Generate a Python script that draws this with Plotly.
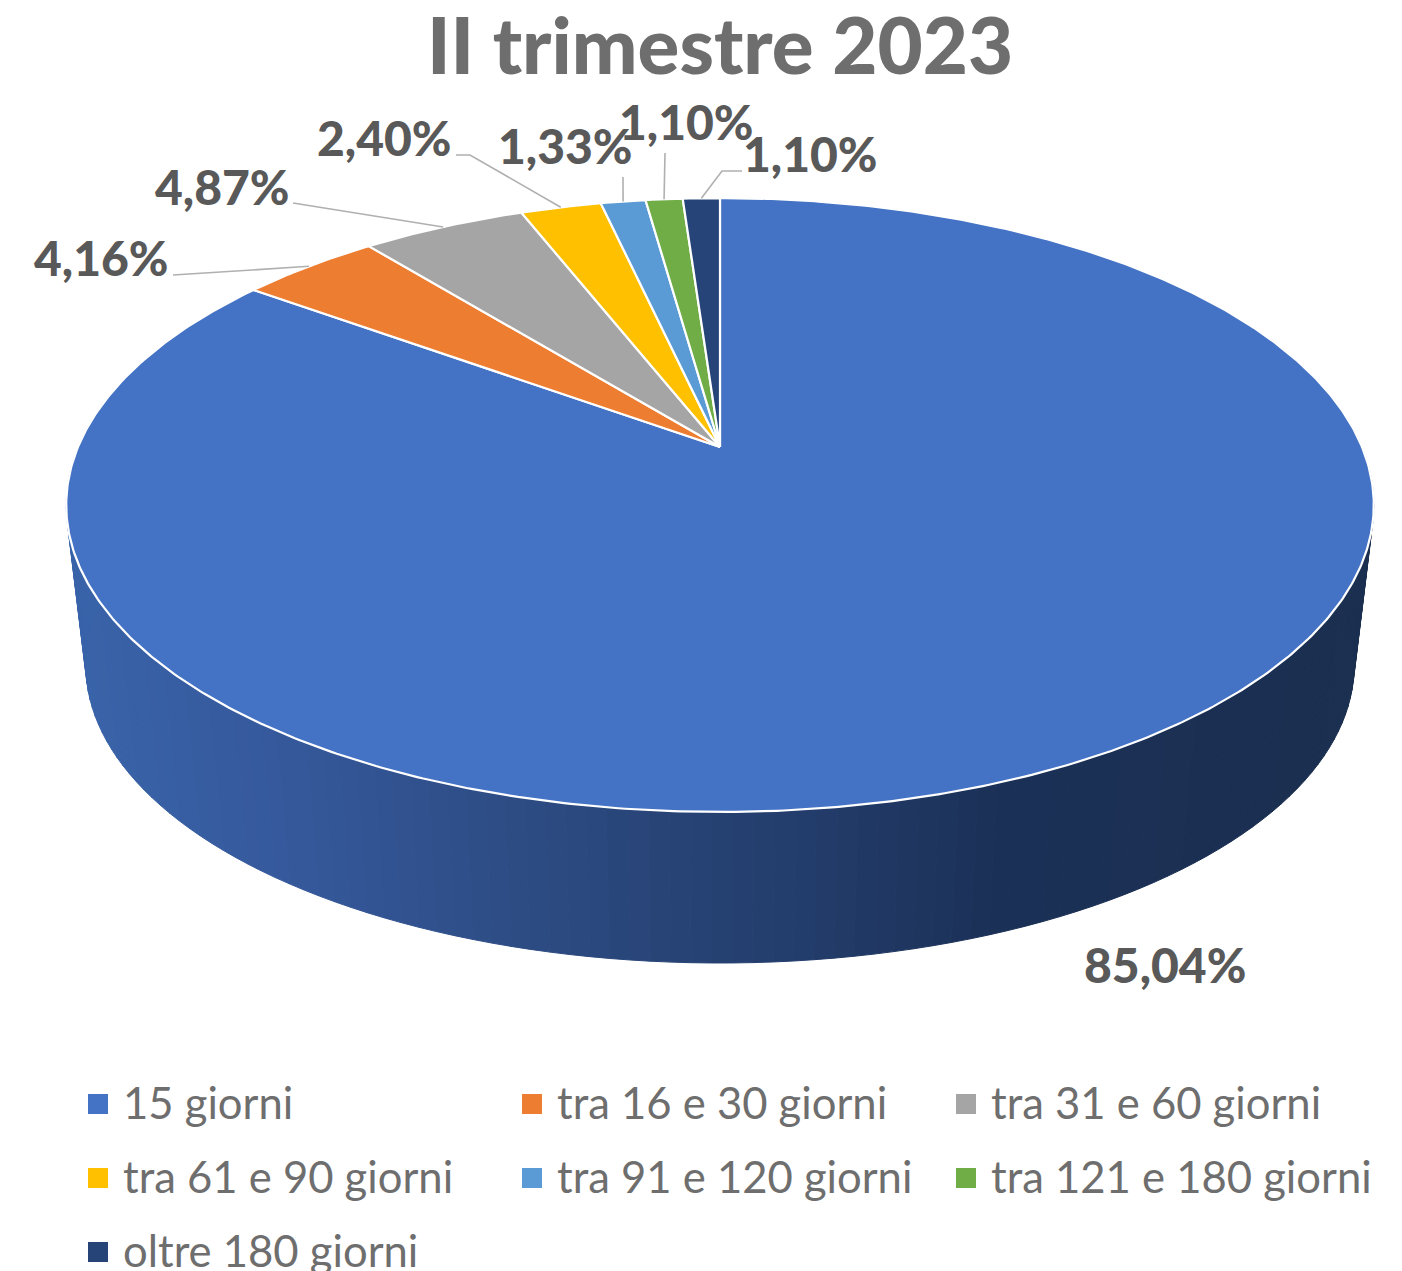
import numpy as np
import plotly.graph_objects as go

TITLE = "II trimestre 2023"
categories = ["15 giorni", "tra 16 e 30 giorni", "tra 31 e 60 giorni", "tra 61 e 90 giorni",
              "tra 91 e 120 giorni", "tra 121 e 180 giorni", "oltre 180 giorni"]
values = [85.04, 4.16, 4.87, 2.40, 1.33, 1.10, 1.10]
value_labels = ["85,04%", "4,16%", "4,87%", "2,40%", "1,33%", "1,10%", "1,10%"]
colors = ["#4472C4", "#ED7D31", "#A5A5A5", "#FFC000", "#5B9BD5", "#70AD47", "#264478"]

# Perspective model of the pie's top disc, in page pixels
CX, CY = 720.0, 447.0
K, A, B = 0.189, 642.0, 296.0
SCALE, VY = 0.97, 5846.0   # extrusion of the lower rim towards the vanishing point


def project(theta):
    """theta: clockwise angle from 12 o'clock, in radians."""
    u, v = np.sin(theta), -np.cos(theta)
    d = 1 - K * v
    return CX + A * u / d, CY + B * v / d


def lower(x, y):
    return CX + SCALE * (x - CX), VY + SCALE * (y - VY)


def lerp_hex(stops, t):
    xs = [s[0] for s in stops]
    rgb = [int(np.interp(t, xs, [int(s[1][i:i + 2], 16) for s in stops])) for i in (1, 3, 5)]
    return "#%02x%02x%02x" % tuple(rgb)


SIDE_STOPS = [(60, "#3A64AA"), (300, "#35589A"), (560, "#2C4A80"), (800, "#233D6C"),
              (1000, "#1C3157"), (1400, "#1B2F50")]

fractions = np.array(values) / sum(values)
edges = np.concatenate([[0], np.cumsum(fractions)]) * 2 * np.pi

fig = go.Figure()

# Side wall of the large slice (only that slice has a visible front wall)
wall = np.linspace(edges[0], edges[1], 201)
wall = wall[(-np.cos(wall) > -0.25)]
for a0, a1 in zip(wall[:-1], wall[1:]):
    th = np.linspace(a0, a1, 3)
    x, y = project(th)
    xb, yb = lower(x, y)
    col = lerp_hex(SIDE_STOPS, float(x.mean()))
    fig.add_trace(go.Scatter(x=np.r_[x, xb[::-1], x[0]], y=np.r_[y, yb[::-1], y[0]], mode="lines",
                             fill="toself", fillcolor=col, line=dict(color=col, width=1),
                             hoverinfo="skip", showlegend=False))

# Top face slices
for i, cat in enumerate(categories):
    th = np.linspace(edges[i], edges[i + 1], max(6, int(fractions[i] * 720)))
    x, y = project(th)
    fig.add_trace(go.Scatter(x=np.r_[CX, x, CX], y=np.r_[CY, y, CY], mode="lines", fill="toself",
                             fillcolor=colors[i], line=dict(color="#FFFFFF", width=2.2),
                             name=cat, text=[value_labels[i]] * (len(th) + 2),
                             hoverinfo="name+text", showlegend=False))

# Data labels: centre of text, and leader elbows (the leader ends on the slice's rim)
label_pos = [(1165, 964), (101, 257), (222, 186), (384, 137), (565, 145), (686, 121), (810, 153)]
elbows = [None, [(173, 275)], [(293, 203)], [(456, 155), (470, 155)], [(623, 177)], [(665, 153)],
          [(742, 171), (722, 171)]]
mids = (edges[:-1] + edges[1:]) / 2
for i in range(1, len(values)):
    mx, my = project(mids[i])
    pts = elbows[i] + [(float(mx), float(my))]
    fig.add_trace(go.Scatter(x=[p[0] for p in pts], y=[p[1] for p in pts], mode="lines",
                             line=dict(color="#B0B0B0", width=1.6), hoverinfo="skip", showlegend=False))

annotations = []
for (lx, ly), lab in zip(label_pos, value_labels):
    annotations.append(dict(x=lx, y=ly, xref="x", yref="y", text=lab, showarrow=False,
                            xanchor="center", yanchor="middle",
                            font=dict(family="Lato", size=48, weight=900, color="#595959")))

# Legend, laid out in three columns
COLS_X = [98, 532, 966]
ROW_Y0, ROW_DY = 1104, 74
for i, cat in enumerate(categories):
    col, row = i % 3, i // 3
    fig.add_trace(go.Scatter(x=[COLS_X[col]], y=[ROW_Y0 + row * ROW_DY], mode="markers",
                             marker=dict(symbol="square", size=20, color=colors[i]),
                             hoverinfo="skip", showlegend=False))
    annotations.append(dict(x=COLS_X[col] + 23, y=ROW_Y0 - 2 + row * ROW_DY, xref="x", yref="y", text=cat,
                            showarrow=False, xanchor="left", yanchor="middle",
                            font=dict(family="Lato", size=43.6, color="#6E6E6E")))

fig.update_layout(
    width=1402, height=1271, margin=dict(l=0, r=0, t=0, b=0),
    paper_bgcolor="#FFFFFF", plot_bgcolor="#FFFFFF",
    title=dict(text=TITLE, x=720 / 1402, xanchor="center", y=1 - 47 / 1271, yanchor="middle",
               font=dict(family="Lato", size=78, weight=900, color="#6E6E6E")),
    xaxis=dict(range=[0, 1402], visible=False, fixedrange=True),
    yaxis=dict(range=[1271, 0], visible=False, fixedrange=True),
    annotations=annotations,
    showlegend=False,
)
fig.write_html("out.html", config=dict(displayModeBar=False),
               post_script="document.body.style.margin='0';document.body.style.overflow='hidden';")
